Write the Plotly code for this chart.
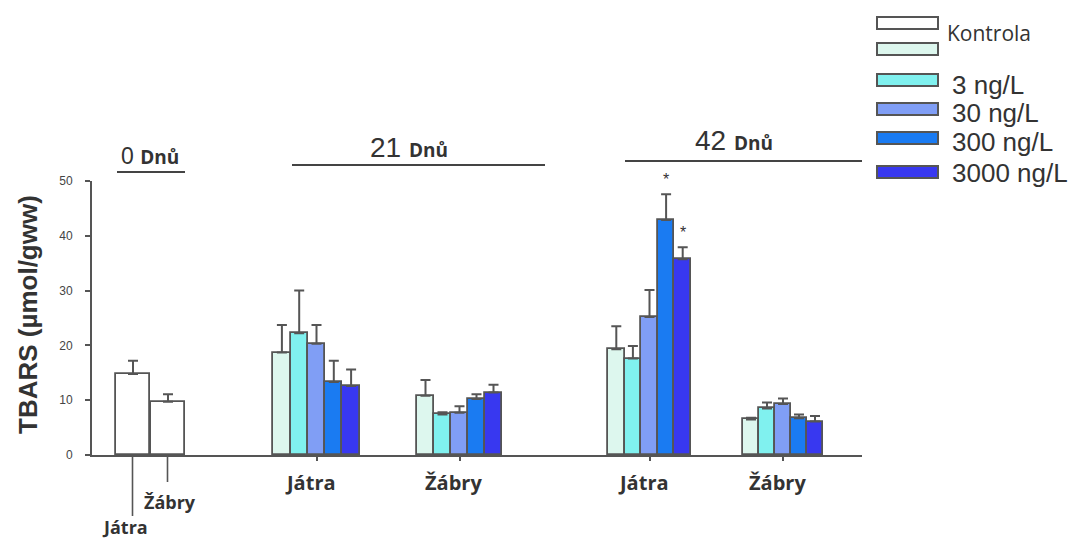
import plotly.graph_objects as go

# ---- data -------------------------------------------------------------
organs = ["Játra", "Žábry"]
treatments = ["Kontrola", "3 ng/L", "30 ng/L", "300 ng/L", "3000 ng/L"]

day0_mean = [14.8, 9.7]
day0_sd = [2.4, 1.4]

d21_jatra_mean = [18.7, 22.2, 20.3, 13.3, 12.6]
d21_jatra_sd = [5.0, 7.8, 3.4, 3.9, 3.0]
d21_zabry_mean = [10.8, 7.4, 7.7, 10.2, 11.4]
d21_zabry_sd = [2.9, 0.4, 1.2, 0.9, 1.4]

d42_jatra_mean = [19.3, 17.6, 25.2, 42.9, 35.7]
d42_jatra_sd = [4.2, 2.3, 4.9, 4.7, 2.2]
d42_zabry_mean = [6.5, 8.5, 9.3, 6.7, 6.1]
d42_zabry_sd = [0.3, 1.1, 1.0, 0.7, 1.0]

significant_42_jatra = ["", "", "", "*", "*"]

y_ticks = [0, 10, 20, 30, 40, 50]
headers = ["0", "21", "42"]

# ---- layout constants ---------------------------------------------------
W, H = 1075, 542
L, R, T, B = 92, 862, 181, 455          # plot area in pixels
X_SPAN = R - L                            # x axis works in pixel-sized units

colors_day0 = "#ffffff"
colors = ["#ddf7ee", "#80f1ef", "#809ef5", "#1a7bf2", "#3838f0"]
edge = "#555555"
text_col = "#333333"

day0_centers = [41, 76]
day0_width = 34
groups = [  # (centre, bar width, means, sds)
    (224.5, 17.3, d21_jatra_mean, d21_jatra_sd),
    (367.5, 17.0, d21_zabry_mean, d21_zabry_sd),
    (557.5, 16.6, d42_jatra_mean, d42_jatra_sd),
    (691.0, 16.0, d42_zabry_mean, d42_zabry_sd),
]


def px(x):
    return (x - L) / X_SPAN


def py(y):
    return (B - y) / (B - T)


def note(x, y, text, font, xref="paper", xanchor="center", **kw):
    return dict(x=x, y=y, xref=xref, yref="paper", text=text, showarrow=False,
                xanchor=xanchor, yanchor="middle", font=font, **kw)


fig = go.Figure()

# day 0 bars
fig.add_trace(go.Bar(
    x=day0_centers, y=day0_mean, width=[day0_width] * 2,
    marker=dict(color=colors_day0, line=dict(color=edge, width=1.8)),
    error_y=dict(type="data", symmetric=False, array=day0_sd,
                 arrayminus=[0, 0], color=edge, thickness=2, width=5),
    showlegend=False, hoverinfo="y",
))

# treatment bars for days 21 and 42
for i, name in enumerate(treatments):
    xs, ys, ws, es = [], [], [], []
    for centre, bw, means, sds in groups:
        xs.append(centre + (i - 2) * bw)
        ys.append(means[i])
        ws.append(bw)
        es.append(sds[i])
    fig.add_trace(go.Bar(
        x=xs, y=ys, width=ws, name=name,
        marker=dict(color=colors[i], line=dict(color=edge, width=1.8)),
        error_y=dict(type="data", symmetric=False, array=es,
                     arrayminus=[0] * len(es), color=edge, thickness=2, width=5),
        showlegend=False, hoverinfo="y",
    ))

annotations = []
shapes = []

# significance marks
centre, bw, means, sds = groups[2]
for i, mark in enumerate(significant_42_jatra):
    if mark:
        annotations.append(dict(
            x=centre + (i - 2) * bw, y=means[i] + sds[i], xref="x", yref="y",
            text=mark, showarrow=False, xanchor="center", yanchor="bottom",
            yshift=4, font=dict(family="Arial", size=16, color=text_col)))

# organ labels under the groups
label_font = dict(family="Open Sans", size=20, color=text_col, weight="bold")
for (centre, _, _, _), org in zip(groups, organs * 2):
    annotations.append(note(centre - 6, py(482), org, label_font, xref="x"))
# day 0: long leader ticks with labels
day0_font = dict(family="Open Sans", size=18, color=text_col, weight="bold")
for c, org, tick_end, ylab, dx in zip(day0_centers, organs, [516, 482],
                                      [527, 502], [-8, 2]):
    shapes.append(dict(type="line", xref="x", yref="paper",
                       x0=c - 0.5, x1=c - 0.5, y0=0, y1=py(tick_end),
                       line=dict(color=edge, width=1.6)))
    annotations.append(note(c + dx, py(ylab), org, day0_font, xref="x"))

# day headers with underlines
hdr_cfg = [  # text centre x, text y, size, line x0, line x1, line y
    (150, 156, 23, 117, 185, 172),
    (409, 147, 28, 292, 545, 165),
    (734, 140, 28, 625, 862, 161),
]
for num, (tx, ty, fs, lx0, lx1, ly) in zip(headers, hdr_cfg):
    annotations.append(note(
        px(tx), py(ty),
        num + " <span style='font-family:Open Sans;font-size:19px'><b>Dnů</b></span>",
        dict(family="Arial", size=fs, color=text_col)))
    shapes.append(dict(type="line", xref="paper", yref="paper",
                       x0=px(lx0), x1=px(lx1), y0=py(ly), y1=py(ly),
                       line=dict(color="#444444", width=1.8)))

# legend drawn as boxes and labels
legend_rows = [23, 49, 80, 109, 138, 172]
legend_text_y = [85, 113, 142, 173]
legend_fill = [colors_day0] + colors
for yc, fill in zip(legend_rows, legend_fill):
    shapes.append(dict(type="rect", xref="paper", yref="paper",
                       x0=px(877), x1=px(938), y0=py(yc - 6), y1=py(yc + 6),
                       fillcolor=fill, line=dict(color=edge, width=2)))
annotations.append(note(px(945), py(33), "Kontrola",
                        dict(family="Open Sans", size=21, color=text_col),
                        xanchor="left"))
for yc, name in zip(legend_text_y, treatments[1:]):
    annotations.append(note(px(950), py(yc), name,
                            dict(family="Arial", size=26, color=text_col),
                            xanchor="left"))

# y axis title
annotations.append(note(px(28), py(315), "<b>TBARS (µmol/gww)</b>",
                        dict(family="Arial", size=26, color=text_col),
                        textangle=-90))

fig.update_layout(
    width=W, height=H, autosize=False,
    margin=dict(l=L, r=W - R, t=T, b=H - B, pad=0),
    paper_bgcolor="white", plot_bgcolor="white",
    barmode="overlay", bargap=0,
    annotations=annotations, shapes=shapes,
    xaxis=dict(range=[0, X_SPAN], showgrid=False, zeroline=False,
               showline=True, linecolor=edge, linewidth=1.8,
               tickmode="array", tickvals=[g[0] for g in groups],
               ticktext=["", "", "", ""], ticks="outside", ticklen=4,
               tickcolor=edge, tickwidth=1.5, fixedrange=True),
    yaxis=dict(range=[0, 50], tickvals=y_ticks, showgrid=False, zeroline=False,
               showline=True, linecolor=edge, linewidth=1.8, color="#444444",
               ticks="outside", ticklen=5, tickcolor=edge, tickwidth=1.5,
               ticklabelstandoff=10,
               tickfont=dict(family="Arial", size=12, color="#444444"),
               fixedrange=True),
)

fig.write_html("out.html")
